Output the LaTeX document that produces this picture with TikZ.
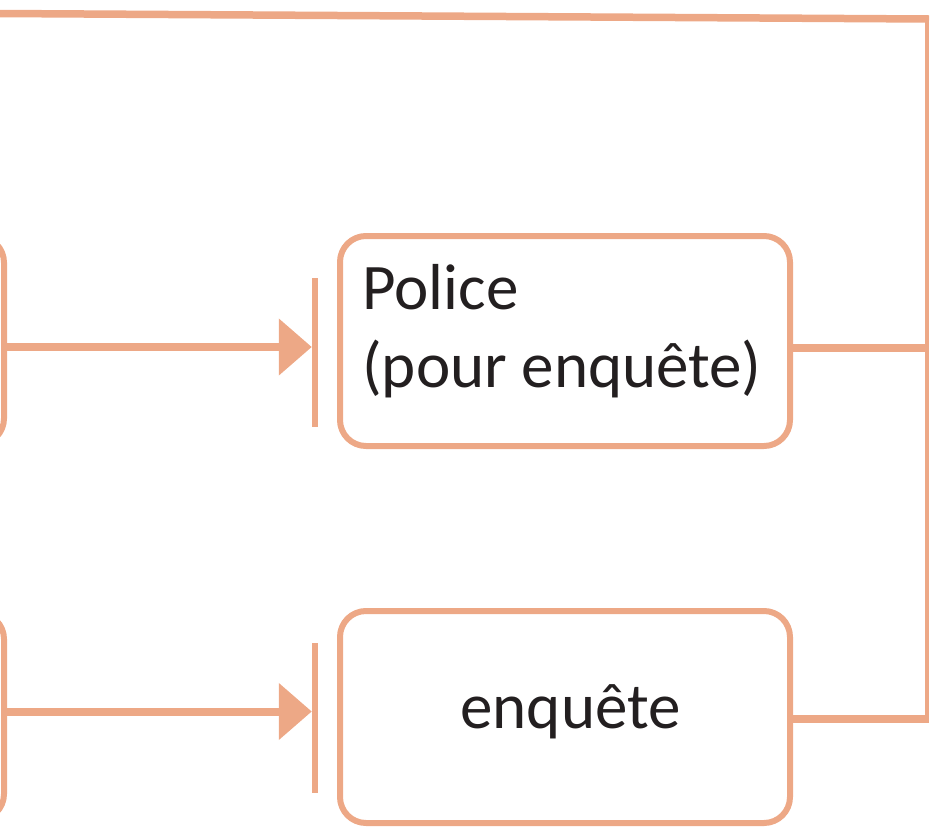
\documentclass[tikz,border=0pt]{standalone}
\usepackage{fontspec}
\setmainfont{Carlito}
\usetikzlibrary{arrows.meta}
\definecolor{sal}{RGB}{237,168,134}
\definecolor{ink}{RGB}{35,31,32}
\tikzset{
  box/.style={draw=sal, line width=6pt, rounded corners=26pt, minimum width=450pt, inner sep=0pt},
  bar/.style={fill=sal, minimum width=6pt, inner sep=0pt},
  flow/.style={draw=sal, line width=8pt, -{Triangle[length=33pt,width=55pt]}},
  link/.style={draw=sal, line width=7.5pt},
  thin/.style={draw=sal, line width=4pt},
  lbl/.style={text=ink, font=\fontsize{65}{78}\selectfont, inner sep=0pt}
}
\begin{document}
\begin{tikzpicture}[x=1pt,y=-1pt]
\useasboundingbox (0,0) rectangle (930,836);
\clip (0,0) rectangle (930,836);
% partial boxes on the left
\node[box, minimum height=208pt] (l1) at (-221,340.5) {};
\node[box, minimum height=207pt] (l2) at (-221,716.5) {};
% main boxes
\node[box, minimum height=210pt] (police) at (565,341) {};
\node[box, minimum height=212pt] (enq) at (565,717) {};
\node[lbl, anchor=base west, align=left] (ptxt) at (362,387) {Police\\(pour enquête)};
\node[lbl, anchor=base] (etxt) at (570.5,728) {enquête};
% bars
\node[bar, minimum height=149pt] (b1) at (315,352.5) {};
\node[bar, minimum height=150pt] (b2) at (315,718) {};
% arrows
\draw[flow] (l1.east |- 0,347) -- (b1.west |- 0,347);
\draw[flow] (l2.east |- 0,711.5) -- (b2.west |- 0,711.5);
% right-hand collector
\coordinate (tl) at (0,13.5);
\coordinate (tr) at (927,19);
\coordinate (r1) at (927,348);
\coordinate (r2) at (927,719);
\draw[link] (tl) -- ([xshift=2pt]tr);
\draw[thin] (tr) -- (r2);
\draw[link] (police.east |- r1) -- (r1);
\draw[link] (enq.east |- r2) -- ([xshift=2pt]r2);
\end{tikzpicture}
\end{document}
